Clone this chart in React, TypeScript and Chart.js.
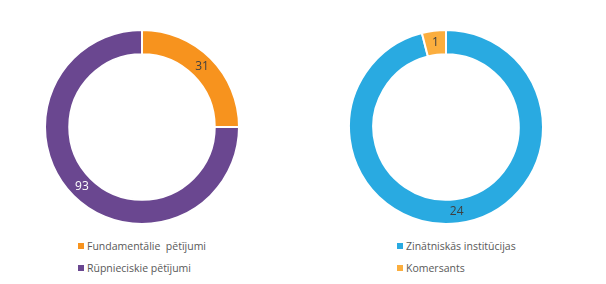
import React, { useEffect, useRef } from "react";
import { Chart, registerables } from "chart.js";

Chart.register(...registerables);

const leftLabels = ["Fundamentālie  pētījumi", "Rūpnieciskie pētījumi"];
const leftValues = [31, 93];
const leftColors = ["#F7931E", "#6A4790"];
const leftLabelColors = ["#404040", "#FFFFFF"];

const rightLabels = ["Zinātniskās institūcijas", "Komersants"];
const rightValues = [24, 1];
const rightColors = ["#29AAE1", "#FBAE3E"];
const rightLabelColors = ["#404040", "#404040"];

const valueLabelPlugin = {
  id: "valueLabels",
  afterDatasetsDraw(chart: any) {
    const ctx = chart.ctx;
    const meta = chart.getDatasetMeta(0);
    const colors = chart.options.plugins.valueLabels.colors;
    ctx.save();
    ctx.font = "12px 'Open Sans', sans-serif";
    ctx.textAlign = "center";
    ctx.textBaseline = "middle";
    meta.data.forEach((arc: any, i: number) => {
      const p = arc.tooltipPosition();
      ctx.fillStyle = colors[i];
      ctx.fillText(String(chart.data.datasets[0].data[i]), p.x, p.y);
    });
    ctx.restore();
  },
};

function Donut(props: {
  labels: string[];
  values: number[];
  colors: string[];
  labelColors: string[];
  left: number;
  top: number;
  size: number;
}) {
  const ref = useRef<HTMLCanvasElement>(null);
  useEffect(() => {
    const chart = new Chart(ref.current!, {
      type: "doughnut",
      data: {
        labels: props.labels,
        datasets: [
          {
            data: props.values,
            backgroundColor: props.colors,
            borderColor: "#FFFFFF",
            borderWidth: 2,
          },
        ],
      },
      options: {
        responsive: false,
        animation: false,
        cutout: "75%",
        layout: { padding: 0 },
        plugins: {
          legend: { display: false },
          tooltip: { enabled: false },
          valueLabels: { colors: props.labelColors },
        } as any,
      },
      plugins: [valueLabelPlugin],
    });
    return () => chart.destroy();
  }, []);
  return (
    <canvas
      ref={ref}
      width={props.size}
      height={props.size}
      style={{ position: "absolute", left: props.left, top: props.top, width: props.size, height: props.size }}
    />
  );
}

function Legend(props: { labels: string[]; colors: string[]; left: number; top: number }) {
  return (
    <div style={{ position: "absolute", left: props.left, top: props.top }}>
      {props.labels.map((l, i) => (
        <div
          key={i}
          style={{
            display: "flex",
            alignItems: "center",
            height: 22,
            font: "10.5px 'Open Sans', sans-serif",
            color: "#595959",
            whiteSpace: "pre",
          }}
        >
          <span style={{ display: "inline-block", width: 6, height: 6, background: props.colors[i], marginRight: 3 }} />
          <span>{l}</span>
        </div>
      ))}
    </div>
  );
}

export default function App() {
  return (
    <div style={{ position: "absolute", left: 0, top: 0, width: 606, height: 284, background: "#FFFFFF", overflow: "hidden" }}>
      <Donut labels={leftLabels} values={leftValues} colors={leftColors} labelColors={leftLabelColors} left={44} top={29} size={196} />
      <Donut labels={rightLabels} values={rightValues} colors={rightColors} labelColors={rightLabelColors} left={348} top={29} size={196} />
      <Legend labels={leftLabels} colors={leftColors} left={78} top={235} />
      <Legend labels={rightLabels} colors={rightColors} left={397} top={235} />
    </div>
  );
}
